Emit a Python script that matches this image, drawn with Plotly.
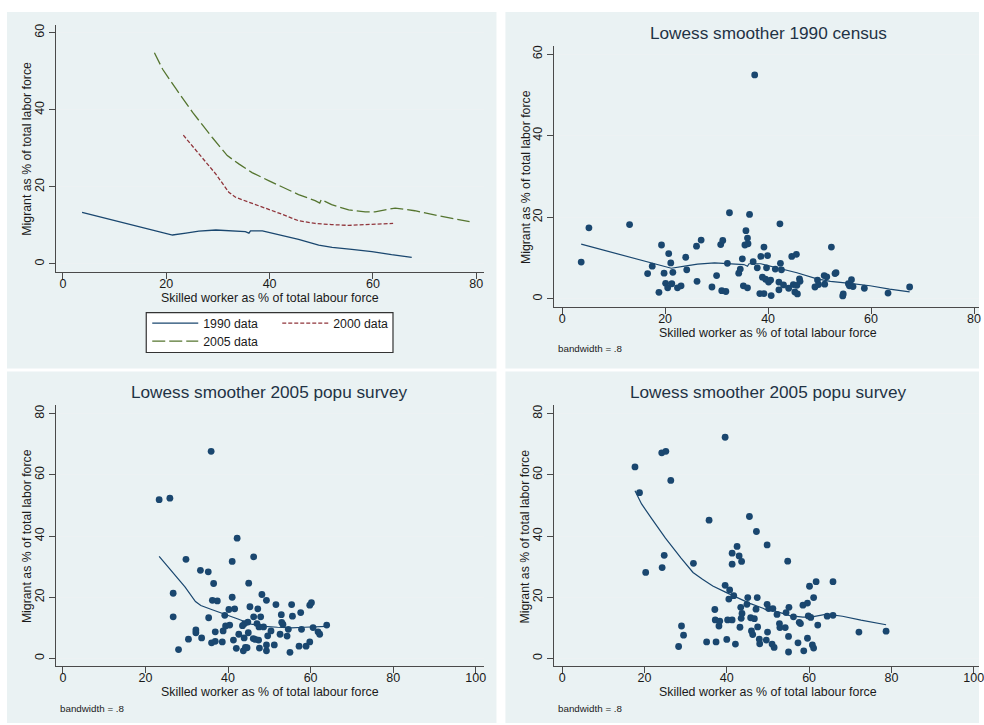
import plotly.graph_objects as go

# ---------------- data ----------------
# Lowess curves (top-left panel and overlays)
low1990_x = [3.7, 19.9, 21.2, 23.8, 26.3, 29.6, 32.8, 35.3, 36.0, 36.3, 38.6, 40.5, 42.4, 45.6, 49.5, 52.1, 55.9, 59.8, 63.6, 67.5]
low1990_y = [13.4, 7.8, 7.5, 8.0, 8.5, 8.8, 8.6, 8.4, 8.0, 8.6, 8.6, 8.0, 7.4, 6.4, 4.9, 4.3, 3.8, 3.2, 2.4, 1.7]

low2000_x = [23.3, 26.3, 29.6, 32.1, 33.4, 36.0, 39.2, 42.4, 45.6, 48.8, 52.0, 55.3, 58.5, 61.7, 63.9]
low2000_y = [33.4, 28.5, 23.3, 18.6, 17.3, 16.0, 14.5, 12.9, 11.2, 10.5, 10.2, 10.0, 10.2, 10.4, 10.5]

low2005_x = [17.7, 19.3, 21.8, 25.1, 28.9, 31.8, 34.1, 36.6, 39.8, 42.4, 45.6, 48.8, 49.7, 50.0, 52.0, 55.3, 58.5, 60.4, 64.3, 68.1, 72.6, 78.7]
low2005_y = [54.8, 50.5, 45.6, 39.3, 32.8, 28.1, 25.9, 23.7, 21.6, 19.9, 18.0, 16.4, 15.8, 16.7, 15.4, 14.0, 13.5, 13.5, 14.5, 13.8, 12.5, 11.0]

# 1990 census scatter
s1990_x = [3.7, 5.2, 13.1, 16.6, 17.5, 18.8, 19.3, 19.8, 20.1, 20.5, 20.7, 21.1, 21.3, 21.5, 22.4, 23.1,
           24.0, 24.2, 26.1, 26.2, 27.0, 29.1, 30.0, 30.8, 31.2, 31.0, 31.8, 32.1, 32.5, 34.3, 34.6, 35.0,
           35.2, 35.5, 35.7, 36.0, 36.1, 36.0, 36.4, 37.1, 37.4, 37.9, 38.4, 38.6, 38.9, 39.2, 39.2, 39.5,
           39.7, 39.9, 40.1, 40.5, 40.6, 41.4, 42.1, 42.1, 42.3, 42.4, 42.6, 43.0, 44.0, 44.6, 44.9, 45.2,
           45.5, 45.6, 45.7, 46.1, 46.2, 49.1, 49.6, 49.8, 50.9, 51.0, 51.4, 52.3, 53.0, 53.2, 54.5, 54.6,
           55.6, 55.8, 56.2, 56.5, 58.7, 63.3, 67.5]
s1990_y = [9.0, 17.4, 18.2, 6.2, 8.0, 1.6, 13.2, 6.3, 3.8, 2.7, 11.1, 8.8, 3.7, 6.5, 2.7, 3.2,
           10.2, 7.1, 12.9, 4.3, 14.4, 2.9, 5.7, 13.3, 14.3, 2.0, 1.8, 8.7, 21.1, 6.3, 7.3, 9.8,
           3.2, 13.2, 16.7, 14.9, 13.5, 2.7, 20.7, 9.1, 54.9, 7.6, 1.3, 10.4, 5.3, 12.7, 1.3, 4.8,
           7.6, 10.6, 4.1, 4.6, 0.8, 7.3, 4.1, 2.2, 18.4, 8.7, 7.1, 3.4, 2.6, 10.4, 3.5, 1.7,
           10.9, 3.3, 1.2, 4.9, 4.3, 2.9, 4.6, 3.5, 5.7, 3.6, 5.4, 12.7, 6.2, 6.4, 0.7, 1.2,
           3.7, 3.2, 4.7, 3.0, 2.6, 1.4, 2.9]

# 2000 data scatter (bottom-left panel)
s2000_x = [23.3, 25.9, 35.9, 26.7, 26.7, 28.0, 29.8, 30.4, 32.2, 32.2, 33.3, 33.6, 35.2, 35.3, 36.0, 36.2,
           36.5, 36.9, 36.9, 37.4, 38.6, 38.8, 39.2, 39.4, 40.2, 40.4, 41.0, 41.0, 41.3, 41.6, 42.0, 42.2,
           42.6, 43.5, 43.7, 43.9, 44.0, 44.2, 44.6, 44.8, 45.0, 44.9, 45.3, 46.2, 46.2, 46.1, 46.6, 47.2,
           47.0, 47.4, 47.5, 47.6, 47.9, 48.2, 48.6, 49.3, 49.3, 49.3, 49.6, 50.4, 51.2, 51.6, 52.6, 52.9,
           53.0, 53.3, 54.3, 54.6, 55.0, 55.4, 55.6, 57.2, 57.6, 57.8, 58.9, 59.8, 59.8, 60.2, 60.6, 61.8,
           62.2, 63.9]
s2000_y = [51.9, 52.4, 67.7, 21.3, 13.6, 2.9, 32.4, 6.3, 9.3, 8.4, 28.8, 6.7, 28.3, 13.3, 5.1, 19.0,
           24.5, 5.6, 8.7, 18.8, 5.4, 9.0, 14.1, 10.6, 16.0, 10.9, 31.7, 20.0, 6.0, 16.2, 3.3, 39.3,
           7.9, 10.7, 2.5, 6.7, 11.4, 3.6, 3.5, 11.9, 24.6, 8.4, 16.9, 13.6, 33.2, 6.5, 6.2, 16.2,
           11.4, 6.0, 10.3, 3.4, 13.6, 20.9, 10.3, 19.0, 4.4, 2.5, 7.4, 9.0, 4.4, 17.6, 7.9, 14.3,
           11.8, 11.1, 7.3, 9.5, 2.0, 17.6, 13.8, 4.0, 15.0, 9.5, 4.0, 5.4, 17.4, 18.2, 10.1, 8.7,
           7.9, 10.9]

# 2005 data scatter (bottom-right panel)
s2005_x = [17.7, 18.8, 20.3, 24.2, 25.2, 26.4, 24.3, 24.8, 28.3, 29.0, 29.5, 31.9, 35.1, 35.7, 37.1, 37.2,
           37.4, 38.1, 38.3, 39.6, 39.6, 40.0, 40.2, 40.5, 40.7, 41.3, 41.3, 41.3, 41.7, 42.1, 42.5, 43.0,
           43.2, 43.4, 43.5, 43.6, 43.7, 44.9, 45.1, 45.5, 45.8, 46.0, 46.3, 46.7, 47.1, 47.2, 47.4, 47.5,
           47.9, 48.0, 49.6, 49.8, 49.8, 49.9, 50.2, 51.0, 51.2, 51.5, 52.2, 52.8, 52.9, 54.2, 54.4, 54.8,
           55.0, 55.0, 55.1, 56.2, 57.3, 57.6, 57.9, 58.5, 58.7, 59.6, 59.6, 59.8, 60.1, 60.4, 60.8, 61.1,
           61.1, 61.7, 62.1, 64.4, 65.8, 65.8, 72.1, 78.7]
s2005_y = [62.6, 54.2, 28.1, 67.2, 67.7, 58.2, 29.7, 33.7, 3.9, 10.6, 7.6, 31.1, 5.4, 45.2, 16.0, 12.6,
           5.4, 10.6, 12.2, 72.3, 23.9, 6.2, 12.6, 19.4, 22.4, 34.4, 30.8, 12.6, 20.5, 4.7, 36.6, 33.5,
           10.2, 16.7, 13.1, 31.7, 14.7, 17.7, 19.9, 46.4, 13.3, 9.0, 7.8, 13.0, 16.1, 41.5, 19.9, 10.3,
           6.3, 4.8, 6.0, 17.7, 37.1, 8.6, 16.3, 4.7, 16.3, 3.6, 14.4, 11.4, 10.1, 10.1, 15.0, 31.8,
           7.2, 2.1, 16.7, 13.6, 5.1, 11.8, 11.4, 17.4, 2.5, 18.1, 6.6, 13.9, 23.6, 13.4, 4.4, 19.9,
           3.4, 25.1, 10.9, 13.8, 25.1, 14.1, 8.6, 8.9]

# tick labels
ticks_p1_x = [0, 20, 40, 60, 80]
ticks_p1_y = [0, 20, 40, 60]
ticks_p3_x = [0, 20, 40, 60, 80, 100]
ticks_p3_y = [0, 20, 40, 60, 80]

titles = ["Lowess smoother 1990 census", "Lowess smoother 2005 popu survey", "Lowess smoother 2005 popu survey"]
xtitle = "Skilled worker as % of total labour force"
ytitle = "Migrant as % of total labor force"
note = "bandwidth = .8"

# ---------------- styling ----------------
W, H = 984, 725
NAVY = "#1A476F"
MAROON = "#90353B"
GREEN = "#55752F"
PANEL = "#EAF2F3"
GRID = "#EDF2F3"
AXC = "#4a4a4a"
TXT = "#1a1a1a"
TITLEC = "#1F3245"
FONT = "Liberation Sans, Arial, sans-serif"


def fx(px):
    return px / W


def fy(py):
    return 1 - py / H


fig = go.Figure()

# top-left: three lowess curves
fig.add_trace(go.Scatter(x=low1990_x, y=low1990_y, mode="lines", name="1990 data",
                         line=dict(color=NAVY, width=1.3), xaxis="x", yaxis="y", legend="legend"))
fig.add_trace(go.Scatter(x=low2000_x, y=low2000_y, mode="lines", name="2000 data",
                         line=dict(color=MAROON, width=1.3, dash="4px,2px"), xaxis="x", yaxis="y", legend="legend"))
fig.add_trace(go.Scatter(x=low2005_x, y=low2005_y, mode="lines", name="2005 data",
                         line=dict(color=GREEN, width=1.3, dash="13px,4px"), xaxis="x", yaxis="y", legend="legend2"))

# top-right: 1990 scatter + lowess
fig.add_trace(go.Scatter(x=s1990_x, y=s1990_y, mode="markers", showlegend=False,
                         marker=dict(color=NAVY, size=6.8), xaxis="x2", yaxis="y2"))
fig.add_trace(go.Scatter(x=low1990_x, y=low1990_y, mode="lines", showlegend=False,
                         line=dict(color=NAVY, width=1.2), xaxis="x2", yaxis="y2"))

# bottom-left: 2000 scatter + lowess
fig.add_trace(go.Scatter(x=s2000_x, y=s2000_y, mode="markers", showlegend=False,
                         marker=dict(color=NAVY, size=6.8), xaxis="x3", yaxis="y3"))
fig.add_trace(go.Scatter(x=low2000_x, y=low2000_y, mode="lines", showlegend=False,
                         line=dict(color=NAVY, width=1.2), xaxis="x3", yaxis="y3"))

# bottom-right: 2005 scatter + lowess
fig.add_trace(go.Scatter(x=s2005_x, y=s2005_y, mode="markers", showlegend=False,
                         marker=dict(color=NAVY, size=6.8), xaxis="x4", yaxis="y4"))
fig.add_trace(go.Scatter(x=low2005_x, y=low2005_y, mode="lines", showlegend=False,
                         line=dict(color=NAVY, width=1.2), xaxis="x4", yaxis="y4"))


def xax(domain, rng, ticks, anchor):
    return dict(domain=domain, range=rng, tickvals=ticks, ticktext=[str(t) for t in ticks],
                showgrid=False, zeroline=False, showline=True, linecolor=AXC, linewidth=1.3,
                ticks="outside", ticklen=6, tickwidth=1, tickcolor=AXC, anchor=anchor,
                ticklabelstandoff=-6, ticklabeloverflow="allow",
                tickfont=dict(family=FONT, size=12.5, color=TXT), fixedrange=True)


def yax(domain, rng, ticks, anchor):
    return dict(domain=domain, range=rng, tickvals=ticks, ticktext=[str(t) for t in ticks],
                showgrid=True, gridcolor=GRID, gridwidth=1.2, zeroline=False, showline=True,
                linecolor=AXC, linewidth=1.3, ticks="outside", ticklen=6, tickwidth=1, tickcolor=AXC,
                tickangle=-90, anchor=anchor, ticklabeloverflow="allow",
                tickfont=dict(family=FONT, size=12.5, color=TXT), fixedrange=True)


P1 = dict(l=56, r=486, t=24, b=271)
P2 = dict(l=557, r=984, t=45, b=306)
P3 = dict(l=56, r=486, t=405, b=666)
P4 = dict(l=557, r=984, t=405, b=666)

fig.update_layout(
    width=W, height=H,
    margin=dict(l=0, r=0, t=0, b=0),
    paper_bgcolor="white", plot_bgcolor="white",
    font=dict(family=FONT, size=12.5, color=TXT),
    xaxis=xax([fx(P1["l"]), fx(P1["r"])], [-1.4, 81.4], ticks_p1_x, "y"),
    yaxis=yax([fy(P1["b"]), fy(P1["t"])], [-2.0, 62.0], ticks_p1_y, "x"),
    xaxis2=xax([fx(P2["l"]), 1.0], [-1.55, 80.97], ticks_p1_x, "y2"),
    yaxis2=yax([fy(P2["b"]), fy(P2["t"])], [-1.9, 62.0], ticks_p1_y, "x2"),
    xaxis3=xax([fx(P3["l"]), fx(P3["r"])], [-1.76, 101.9], ticks_p3_x, "y3"),
    yaxis3=yax([fy(P3["b"]), fy(P3["t"])], [-2.5, 82.7], ticks_p3_y, "x3"),
    xaxis4=xax([fx(P4["l"]), 1.0], [-1.93, 101.27], ticks_p3_x, "y4"),
    yaxis4=yax([fy(P4["b"]), fy(P4["t"])], [-2.5, 82.7], ticks_p3_y, "x4"),
    legend=dict(orientation="h", x=fx(148), y=fy(308), xanchor="left", yanchor="top",
                bgcolor="rgba(0,0,0,0)", borderwidth=0, entrywidth=69, entrywidthmode="pixels",
                font=dict(family=FONT, size=12.3, color=TXT), itemwidth=46, tracegroupgap=0),
    legend2=dict(orientation="h", x=fx(148), y=fy(326), xanchor="left", yanchor="top",
                 bgcolor="rgba(0,0,0,0)", borderwidth=0,
                 font=dict(family=FONT, size=12.3, color=TXT), itemwidth=46),
    showlegend=True,
)

# panel backgrounds and legend box
panels = [(7, 11, 499, 368), (508, 11, 984, 368), (7, 371, 499, 723), (508, 371, 984, 723)]
shapes = []
for (x0, y0, x1, y1) in panels:
    shapes.append(dict(type="rect", xref="paper", yref="paper", x0=fx(x0), x1=fx(x1), y0=fy(y1), y1=fy(y0),
                       fillcolor=PANEL, line=dict(width=0), layer="below"))
shapes.append(dict(type="rect", xref="paper", yref="paper", x0=fx(147), x1=fx(395), y0=fy(352), y1=fy(312),
                   fillcolor="white", line=dict(color="#333333", width=1.2), layer="below"))
fig.update_layout(shapes=shapes)

ann = []
# panel titles
for (cx, cy, t) in [(772, 32, titles[0]), (271, 392, titles[1]), (772, 392, titles[2])]:
    ann.append(dict(x=fx(cx), y=fy(cy), xref="paper", yref="paper", text=t, showarrow=False,
                    xanchor="center", yanchor="middle", font=dict(family=FONT, size=17.2, color=TITLEC)))
# x-axis titles
for (cx, cy) in [(271, 297), (772, 332), (271, 692), (772, 692)]:
    ann.append(dict(x=fx(cx), y=fy(cy), xref="paper", yref="paper", text=xtitle, showarrow=False,
                    xanchor="center", yanchor="middle", font=dict(family=FONT, size=12.4, color=TXT)))
# y-axis titles
for (cx, cy) in [(27, 148), (528, 176), (27, 536), (528, 536)]:
    ann.append(dict(x=fx(cx), y=fy(cy), xref="paper", yref="paper", text=ytitle, showarrow=False,
                    textangle=-90, xanchor="center", yanchor="middle",
                    font=dict(family=FONT, size=12.3, color=TXT)))
# bandwidth notes
for (lx, cy) in [(559, 348), (58, 708), (559, 708)]:
    ann.append(dict(x=fx(lx), y=fy(cy), xref="paper", yref="paper", text=note, showarrow=False,
                    xanchor="left", yanchor="middle", font=dict(family=FONT, size=9.8, color=TXT)))
fig.update_layout(annotations=ann)

fig.write_html("out.html", include_plotlyjs=True, full_html=True,
               config={"displayModeBar": False, "responsive": False},
               post_script="document.body.style.margin='0';document.body.style.overflow='hidden';")
